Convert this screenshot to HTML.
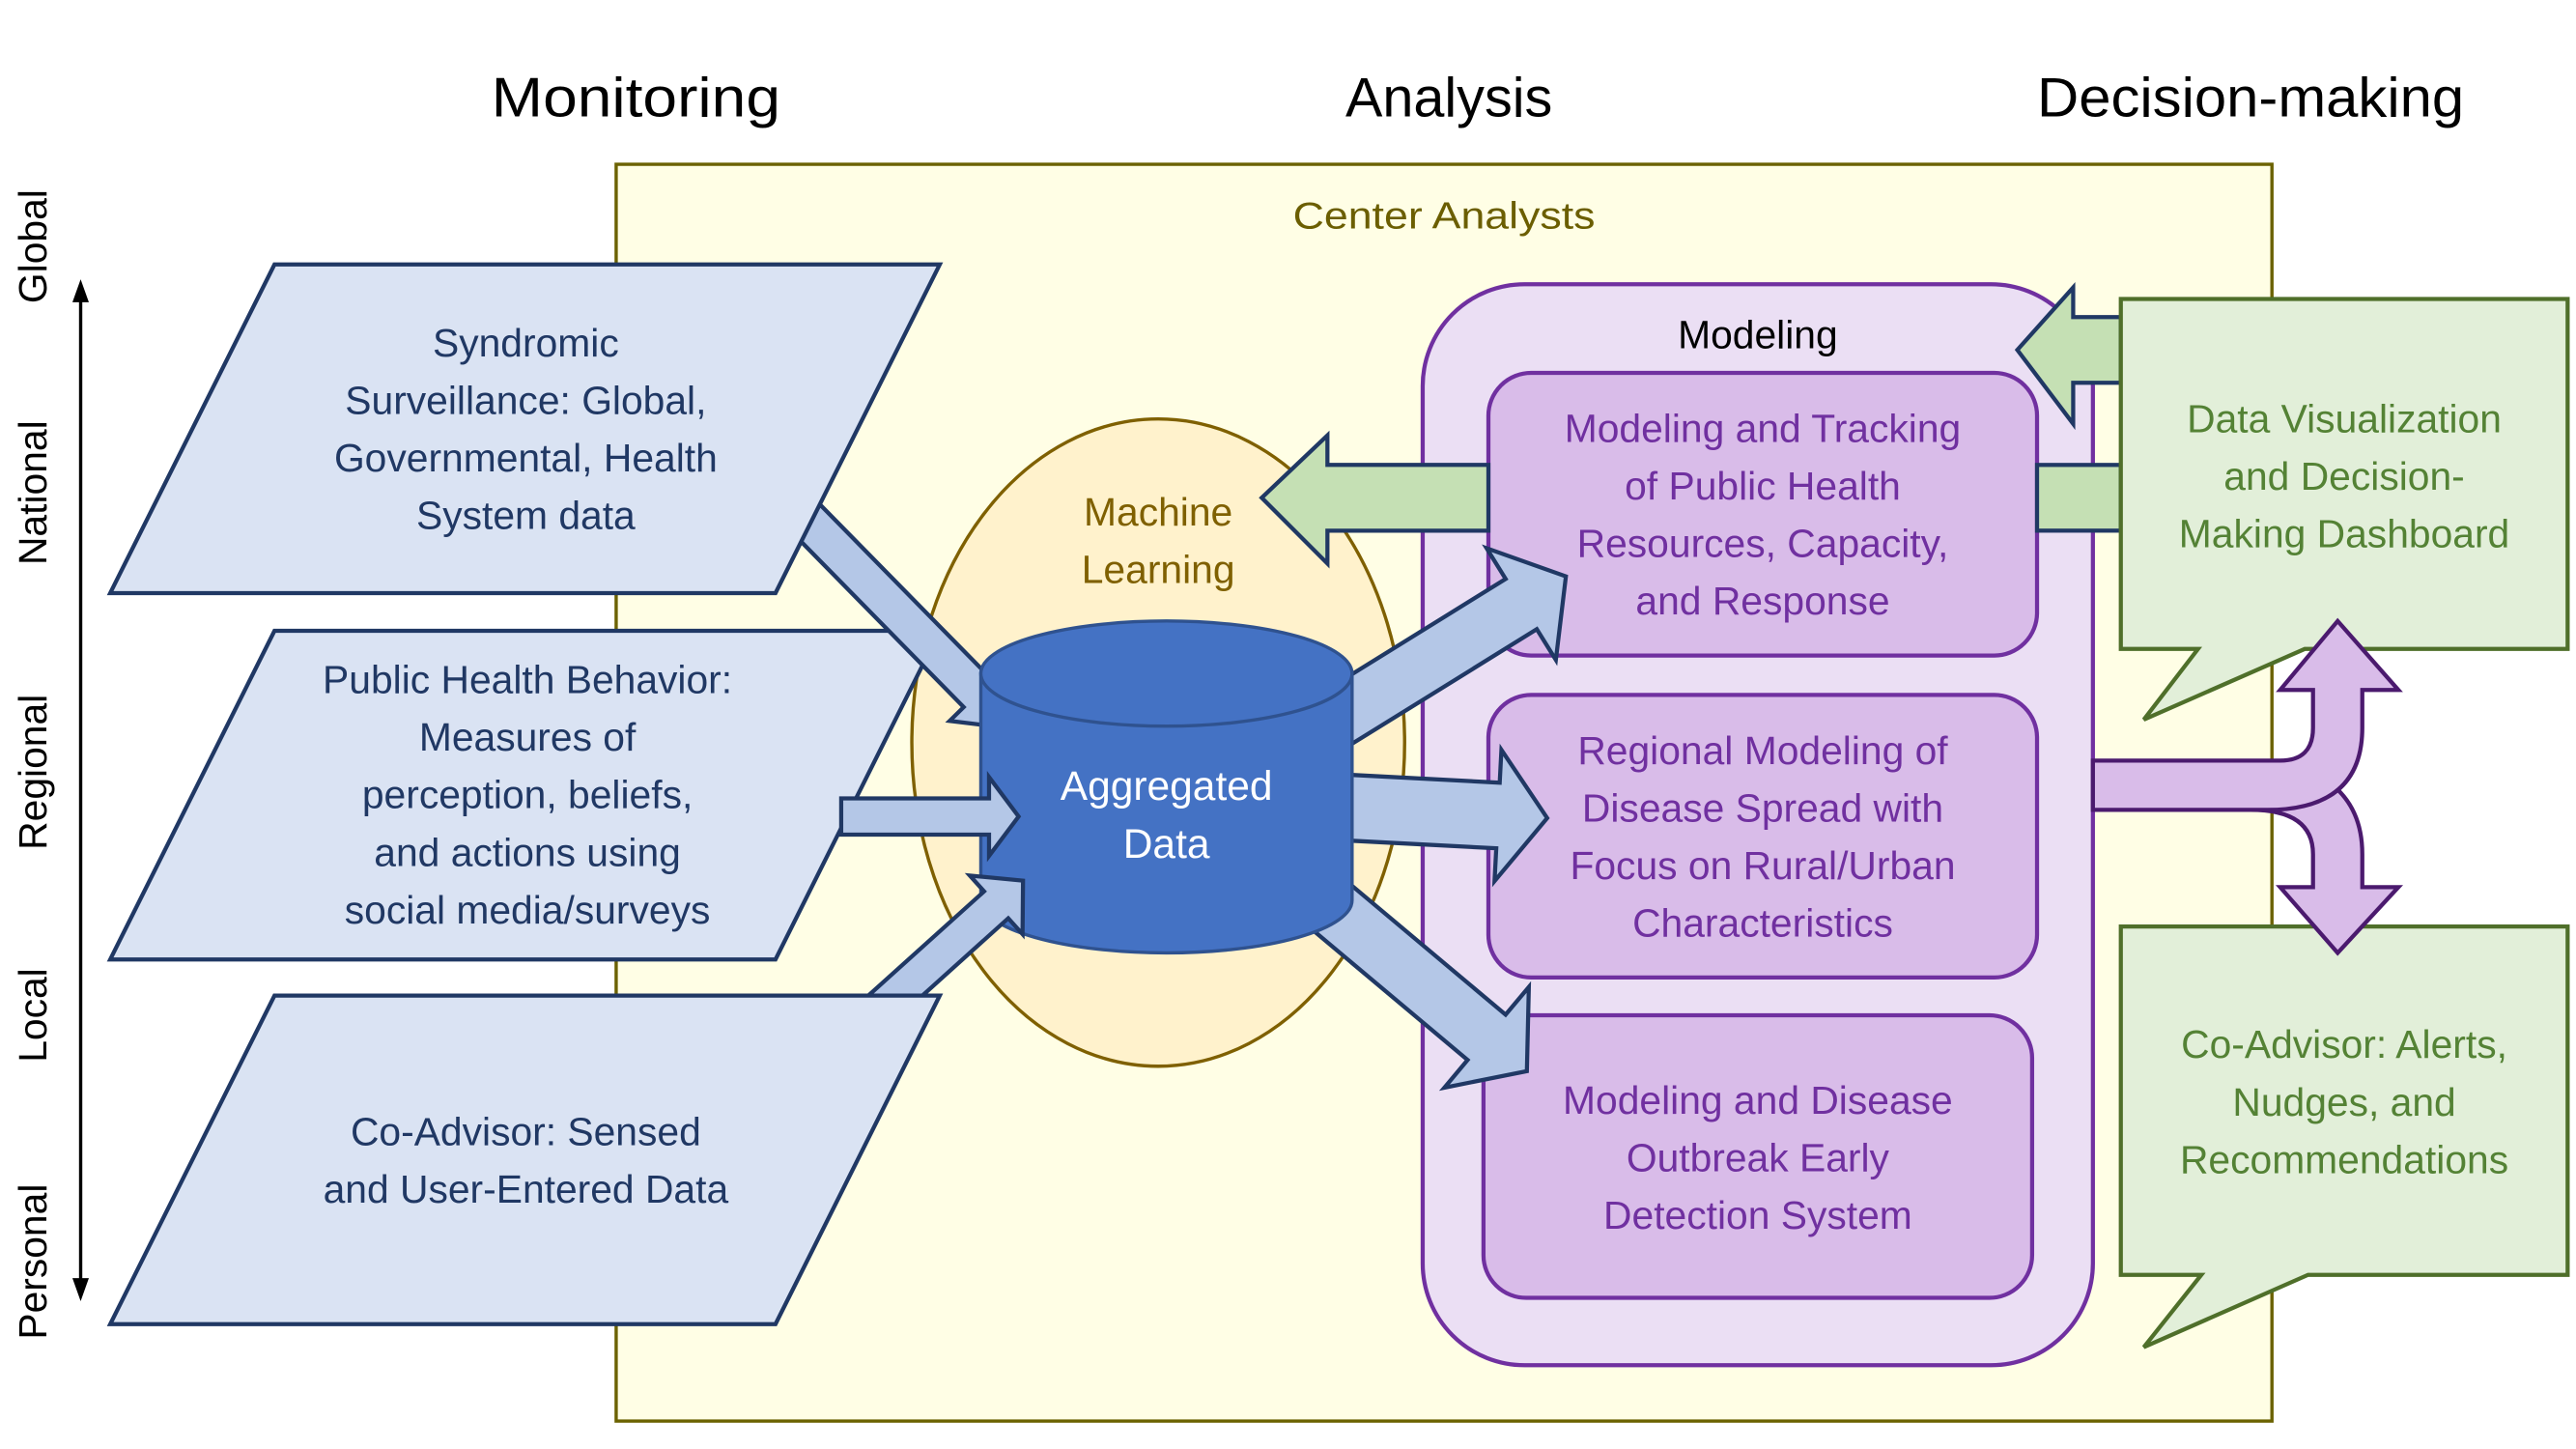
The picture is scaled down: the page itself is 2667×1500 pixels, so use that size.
<!DOCTYPE html>
<html><head><meta charset="utf-8"><style>
html,body{margin:0;padding:0;background:#fff;}
svg{display:block;}
text{font-family:"Liberation Sans",sans-serif;}
</style></head><body>
<svg width="2667" height="1500" viewBox="0 0 1568 882" xmlns="http://www.w3.org/2000/svg">
<!-- headers -->
<g font-size="34" fill="#000" text-anchor="middle">
<text x="387" y="71" textLength="176" lengthAdjust="spacingAndGlyphs">Monitoring</text>
<text x="882" y="71" textLength="126" lengthAdjust="spacingAndGlyphs">Analysis</text>
<text x="1370" y="71" textLength="260" lengthAdjust="spacingAndGlyphs">Decision-making</text>
</g>
<!-- yellow -->
<rect x="375" y="100" width="1008" height="765" fill="#fffee5" stroke="#6b6200" stroke-width="2"/>
<text x="879" y="139" font-size="23" fill="#6b5e00" text-anchor="middle" textLength="184" lengthAdjust="spacingAndGlyphs">Center Analysts</text>
<!-- axis -->
<line x1="49" y1="180" x2="49" y2="784" stroke="#000" stroke-width="2"/>
<path d="M49,170 L44,184 L54,184 Z M49,792 L44,778 L54,778 Z" fill="#000"/>
<g font-size="24" fill="#000" text-anchor="middle">
<text transform="translate(28,150) rotate(-90)">Global</text>
<text transform="translate(28,300) rotate(-90)">National</text>
<text transform="translate(28,470) rotate(-90)">Regional</text>
<text transform="translate(28,618) rotate(-90)">Local</text>
<text transform="translate(28,768) rotate(-90)">Personal</text>
</g>
<!-- ML ellipse -->
<ellipse cx="705" cy="452" rx="150" ry="197" fill="#fff2cc" stroke="#7f6000" stroke-width="2"/>
<g font-size="24" fill="#7f6000" text-anchor="middle">
<text x="705" y="320">Machine</text><text x="705" y="355">Learning</text>
</g>
<!-- modeling outer -->
<rect x="866" y="173" width="408" height="658" rx="62" fill="#ebdff4" stroke="#7030a0" stroke-width="2.5"/>
<text x="1070" y="212" font-size="24" fill="#000" text-anchor="middle">Modeling</text>
<g fill="#d9bce9" stroke="#7030a0" stroke-width="2.5">
<rect x="906" y="227" width="334" height="172" rx="26"/>
<rect x="906" y="423" width="334" height="172" rx="26"/>
<rect x="903" y="618" width="334" height="172" rx="26"/>
</g>
<g font-size="24" fill="#7030a0" text-anchor="middle">
<text x="1073" y="269">Modeling and Tracking</text>
<text x="1073" y="304">of Public Health</text>
<text x="1073" y="339">Resources, Capacity,</text>
<text x="1073" y="374">and Response</text>
<text x="1073" y="465">Regional Modeling of</text>
<text x="1073" y="500">Disease Spread with</text>
<text x="1073" y="535">Focus on Rural/Urban</text>
<text x="1073" y="570">Characteristics</text>
<text x="1070" y="678">Modeling and Disease</text>
<text x="1070" y="713">Outbreak Early</text>
<text x="1070" y="748">Detection System</text>
</g>
<!-- green arrows -->
<g fill="#c5e0b4" stroke="#203864" stroke-width="2.5">
<path d="M906,283 L808,283 L808,265 L768,303 L808,343 L808,323 L906,323 Z"/>
<rect x="1240" y="283" width="51" height="40"/>
<path d="M1291,193 L1262,193 L1262,175 L1228,213 L1262,258 L1262,233 L1291,233 Z"/>
</g>
<!-- callouts -->
<g fill="#e2efd9" stroke="#4f6f2a" stroke-width="2.5">
<path d="M1291,182 L1563,182 L1563,395 L1403,395 L1305,438 L1338,395 L1291,395 Z"/>
<path d="M1291,564 L1563,564 L1563,776 L1405,776 L1305,820 L1340,776 L1291,776 Z"/>
</g>
<g font-size="24" fill="#548235" text-anchor="middle">
<text x="1427" y="263">Data Visualization</text>
<text x="1427" y="298">and Decision-</text>
<text x="1427" y="333">Making Dashboard</text>
<text x="1427" y="644">Co-Advisor: Alerts,</text>
<text x="1427" y="679">Nudges, and</text>
<text x="1427" y="714">Recommendations</text>
</g>
<!-- purple double arrow -->
<g fill="#d9bce9" stroke="#4b1a6e" stroke-width="2.5">
<path d="M1370,493 Q1408,493 1408,520 L1408,540 L1388,540 L1423,580 L1460,540 L1438,540 L1438,520 Q1438,490 1416,475 Z"/>
<path d="M1274,463 L1388,463 Q1408,463 1408,443 L1408,420 L1388,420 L1423,378 L1460,420 L1438,420 L1438,443 Q1438,493 1380,493 L1274,493 Z"/>
</g>
<!-- parallelogram 2 -->
<polygon points="167,384 572,384 472,584 67,584" fill="#dae3f3" stroke="#203864" stroke-width="2.5"/>
<!-- arrow 1 -->
<g fill="#b4c7e7" stroke="#203864" stroke-width="2.5">
<polygon transform="translate(490,315) rotate(45.5)" points="0,-12 150,-12 150,-24 180,0 150,24 150,12 0,12"/>
</g>
<polygon points="167,161 572,161 472,361 67,361" fill="#dae3f3" stroke="#203864" stroke-width="2.5"/>
<!-- outgoing arrows (behind cylinder) -->
<g fill="#b4c7e7" stroke="#203864" stroke-width="2.5">
<polygon transform="translate(790,452) rotate(-31.8)" points="0,-18 160,-18 160,-40 192,0 160,40 160,18 0,18"/>
<polygon transform="translate(790,490) rotate(3)" points="0,-20 122,-20 122,-40 152,0 122,40 122,20 0,20"/>
<polygon transform="translate(790,535) rotate(40)" points="0,-18 150,-18 150,-40 182,0 150,40 150,18 0,18"/>
</g>
<!-- cylinder -->
<path d="M597,410 L597,548 A113,32 0 0 0 823,548 L823,410 Z" fill="#4472c4" stroke="#2f528f" stroke-width="2"/>
<ellipse cx="710" cy="410" rx="113" ry="32" fill="#4472c4" stroke="#2f528f" stroke-width="2"/>
<g font-size="25" fill="#fff" text-anchor="middle">
<text x="710" y="487">Aggregated</text><text x="710" y="522">Data</text>
</g>
<!-- incoming arrows 2,3 -->
<g fill="#b4c7e7" stroke="#203864" stroke-width="2.5">
<polygon transform="translate(512,497) rotate(0)" points="0,-11 90,-11 90,-24 108,0 90,24 90,11 0,11"/>
<polygon transform="translate(535,615) rotate(-42)" points="0,-11 96,-11 96,-24 118,0 96,24 96,11 0,11"/>
</g>
<!-- parallelogram 3 -->
<polygon points="167,606 572,606 472,806 67,806" fill="#dae3f3" stroke="#203864" stroke-width="2.5"/>
<!-- parallelogram texts -->
<g font-size="24" fill="#203864" text-anchor="middle">
<text x="320" y="217">Syndromic</text>
<text x="320" y="252">Surveillance: Global,</text>
<text x="320" y="287">Governmental, Health</text>
<text x="320" y="322">System data</text>
<text x="321" y="422">Public Health Behavior:</text>
<text x="321" y="457">Measures of</text>
<text x="321" y="492">perception, beliefs,</text>
<text x="321" y="527">and actions using</text>
<text x="321" y="562">social media/surveys</text>
<text x="320" y="697">Co-Advisor: Sensed</text>
<text x="320" y="732">and User-Entered Data</text>
</g>
</svg>
</body></html>
